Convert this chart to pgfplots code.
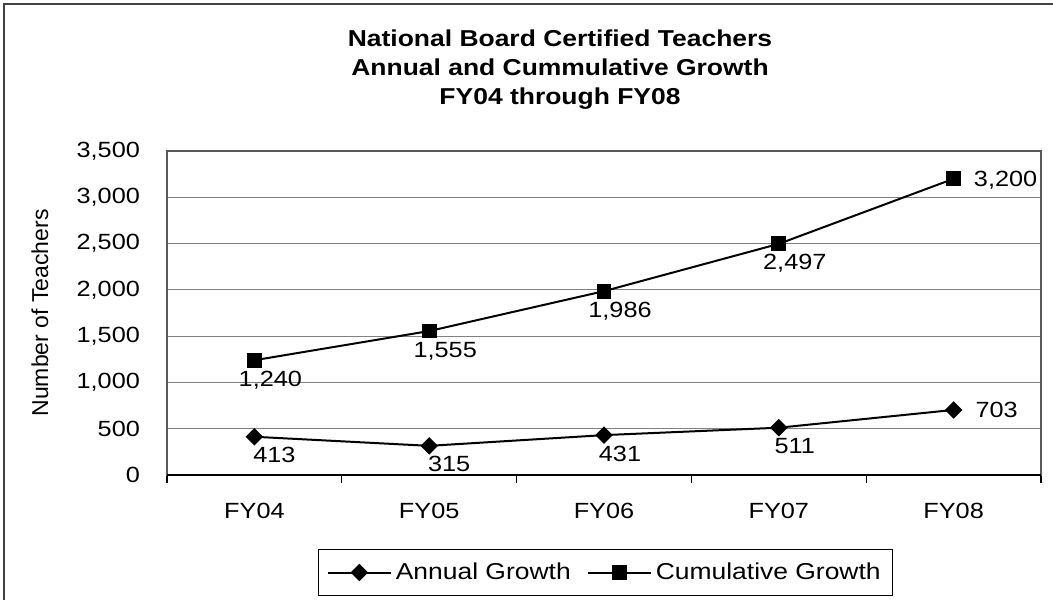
\documentclass[border=0pt]{standalone}
\usepackage{fontspec}
\setmainfont{Liberation Sans}[FakeStretch=1.15]
\newfontfamily\plainsans{Liberation Sans}
\usepackage{pgfplots}
\pgfplotsset{compat=1.18}
\usepackage{pgfplotstable}

% x = category index, lab = data label, dx/dy = label offset (pt, baseline)
\pgfplotstableread{
x y lab dx dy
0 413 413 10 -13
1 315 315 10 -13
2 431 431 8 -13
3 511 511 8 -13
4 703 703 21.5 -3.9
}\annual

\pgfplotstableread{
x y lab dx dy
0 1240 1,240 8 -13
1 1555 1,555 8 -13
2 1986 1,986 8 -13
3 2497 2,497 8 -13
4 3200 3,200 26 -3.9
}\cumul

\begin{document}
\begin{tikzpicture}
\useasboundingbox (0,0) rectangle (526.5pt,300pt);
\draw[black!75, line width=1pt] (2pt,0) -- (2pt,298pt) -- (526.5pt,298pt);

% title
\begin{scope}[every node/.style={anchor=base, font=\fontsize{11.5}{13}\selectfont\bfseries}]
\node at (280pt,276.5pt) {National Board Certified Teachers};
\node at (280pt,262pt) {Annual and Cummulative Growth};
\node at (280pt,247.5pt) {FY04 through FY08};
\end{scope}

\begin{axis}[
    at={(83.5pt,62.5pt)}, anchor=south west,
    scale only axis, width=437pt, height=162pt,
    xmin=-0.5, xmax=4.5, ymin=0, ymax=3500,
    xtick={-0.5,0.5,...,4.5},
    x tick label as interval,
    xticklabels={FY04,FY05,FY06,FY07,FY08},
    xtick pos=left,
    ytick={0,500,...,3500},
    ymajorgrids,
    grid style={gray, line width=0.6pt},
    axis line style={black!65, line width=0.6pt},
    tick align=outside,
    major tick length=4pt,
    xtick style={black, line width=0.6pt},
    ytick style={draw=none},
    tick label style={font=\fontsize{11}{13}\selectfont},
    xticklabel style={yshift=-6.5pt},
    yticklabel style={xshift=-6pt},
    /pgf/number format/1000 sep={,},
    /pgf/number format/assume math mode=true,
    ylabel={\plainsans Number of Teachers},
    ylabel style={at={(axis description cs:-0.1453,0.5)}, anchor=center,
        font=\fontsize{11.5}{13}\selectfont},
    legend style={at={(axis description cs:0.502,-0.301)}, anchor=center,
        legend columns=2, draw=black, line width=0.6pt,
        inner xsep=4pt, inner ysep=4.5pt,
        font=\fontsize{11.5}{13}\selectfont,
        /tikz/every odd column/.append style={column sep=0pt},
        /tikz/every even column/.append style={column sep=6pt}},
    legend image code/.code={\draw[mark repeat=2, mark phase=2]
        plot coordinates {(0pt,0pt) (15.75pt,0pt) (31.5pt,0pt)};},
    nodes near coords,
    point meta=explicit symbolic,
    visualization depends on={\thisrow{dx} \as \dx},
    visualization depends on={\thisrow{dy} \as \dy},
    nodes near coords style={anchor=base, xshift=\dx pt, yshift=\dy pt,
        font=\fontsize{11}{13}\selectfont, black},
    clip=false,
]
\addplot[black, line width=1pt, mark=square*, mark size=2.6pt,
    mark options={solid, black, rotate=45}] table[x=x, y=y, meta=lab] {\annual};
\addlegendentry{Annual Growth}
\addplot[black, line width=1pt, mark=square*, mark size=3.2pt,
    mark options={solid, black}] table[x=x, y=y, meta=lab] {\cumul};
\addlegendentry{Cumulative Growth}
\draw[black, line width=0.8pt] (rel axis cs:0,0) -- (rel axis cs:1,0);
\end{axis}
\end{tikzpicture}
\end{document}
